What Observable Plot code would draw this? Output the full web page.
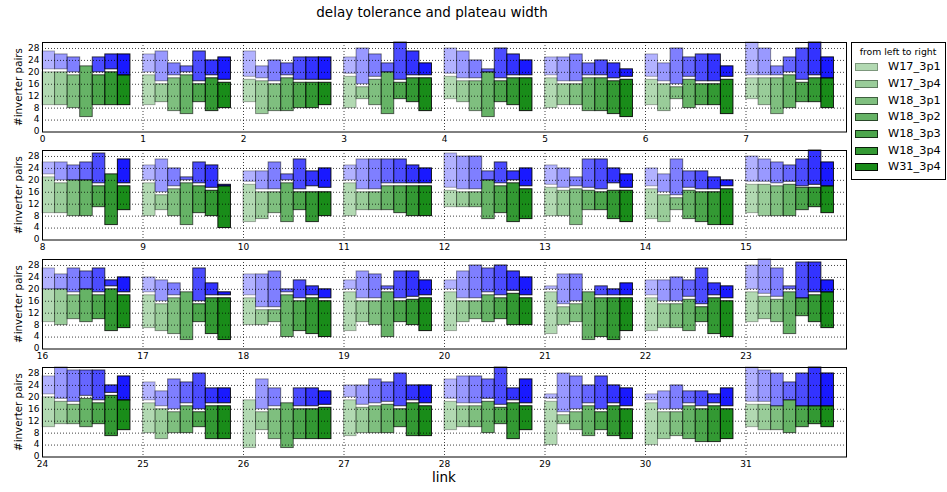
<!DOCTYPE html>
<html><head><meta charset="utf-8">
<script src="https://cdn.jsdelivr.net/npm/d3@7"></script>
<script src="https://cdn.jsdelivr.net/npm/@observablehq/plot@0.6"></script>
<style>
body{margin:0;background:#fff;font-family:"DejaVu Sans",sans-serif;}
#root{position:relative;width:947px;height:492px;overflow:hidden;background:#fff;}
.abs{position:absolute;white-space:nowrap;color:#000;}
svg{overflow:visible;}
</style></head><body><div id="root"></div>
<script>
const series = ["W17_3p1","W17_3p4","W18_3p1","W18_3p2","W18_3p3","W18_3p4","W31_3p4"];
const links = d3.range(32);
const yTicks = [0,4,8,12,16,20,24,28];
// per link (row), per series (column)
const greenLow = [
[9,9,8,5,9,9,9],[9,10,7,6,10,7,8],[10,6,7,7,8,8,9],[8,11,9,6,11,10,7],
[11,10,7,5,10,9,7],[8,9,9,7,7,6,5],[9,7,11,8,9,9,6],[11,9,6,8,10,10,8],
[9,9,8,8,11,5,10],[8,10,8,5,9,8,4],[6,7,9,6,10,6,8],[8,10,10,10,9,8,8],
[11,11,11,7,9,6,7],[8,8,5,10,10,7,6],[7,6,10,7,6,5,5],[9,8,8,8,10,11,9],
[9,8,10,9,10,6,7],[7,6,5,3,9,5,3],[8,8,9,4,6,5,4],[6,9,8,4,9,8,6],
[6,9,10,9,10,8,8],[5,8,9,3,4,3,6],[6,7,7,6,9,5,4],[9,10,9,5,11,9,7],
[10,11,11,10,11,7,9],[8,6,8,8,10,6,6],[3,9,6,3,6,6,6],[7,8,8,8,10,7,7],
[9,10,10,8,11,6,9],[4,11,9,7,9,7,6],[4,6,7,6,5,5,6],[10,9,9,8,10,11,10]];
const greenTop = [
[20,20,19,22,19,20,19],[19,16,18,19,16,18,16.5],[17.5,17,16,18,16.5,16.5,16.5],[18.5,15,17.5,20,16.5,18,18],
[18.5,17,17,20,17,18,18],[18,16,16,18,18,17,17.5],[17.5,16,15,17.5,16,16,17.5],[18,18,18,19,16.5,18,18],
[21,19,20,20,18,22,18],[19,15,17,19,18,16.5,18],[18.5,16,16,19,16,16,16],[19,16,16,18,18,18,18],
[16.5,16,16,20,18,19,17],[17.5,16.5,17,16.5,16,16.5,16.5],[17,15,14,16.5,16,16,17],[18.5,18.5,18,18.5,17.5,17.5,18],
[20,20,18,20,18,20,18],[18,15,17,19,15,17,17],[17,13,13,18,16,17,16],[19,16,16,19,16,16.5,17],
[19,16,16,18,17,18.5,17],[19,14,15,19,17,17,17],[17,15,15,16.5,14,17,16],[19,17.5,16.5,19,17,18,19],
[20,18.5,17.5,19.5,18,20.5,19],[18,16,15,17,15,17,17],[19,15,16,18,16,16,16.5],[19,16.5,17,17.5,16,18,17],
[18.5,17,17,18.5,16.5,18,17],[18.5,14,15,17,15,17,16],[18,15,15,17,16,17,16],[17.5,17.5,17,19,17,17,17]];
const blueBottom = [
[21,21,20,22,20,21,19],[20,17,19,20,17,19,17.5],[18.5,18,17,19,17.5,17.5,17.5],[19.5,16,18.5,20,17.5,19,19],
[19.5,18,18,20,18,19,19],[19,17,17,19,19,18,18.5],[18.5,17,16,18.5,17,17,18.5],[19,19,19,20,17.5,19,18],
[22,20,20,20,19,22,19],[20,16,18,20,19,17.5,18],[19.5,17,17,20,17,18,17.5],[20,17,17,19,19,19,19],
[17.5,17,17,20,19,20,18],[18.5,17.5,18,17.5,17,19,17.5],[18,16,15,17.5,17,17,18],[19.5,19.5,19,19.5,18,18.5,18],
[20,20,19,20,19,21,19],[19,16,18,19,16,18,18],[18,14,14,19,17,18,17],[20,17,17,20,17,17.5,18],
[20,17,17,19,18,19.5,18],[20,15,16,19,18,18,18],[18,16,16,17.5,15,18,17],[20,18.5,17.5,20,17,19,19],
[21,19.5,18.5,20.5,19,21.5,19],[19,17,16,18,16,18,18],[19,16,17,18,17,17,17.5],[20,17.5,18,18.5,17,19,18],
[19.5,18,18,19.5,17.5,19,18],[19.5,15,16,18,16,18,17],[19,16,16,18,17,18,17],[18.5,18.5,17,19,17,17,17]];
const blueTop = [
[27,26,25,22,25,26,26],[26,27,23,22,27,24,25],[27,22,24,23,25,25,25],[25,28,26,23,30,27,23],
[28,27,24,21,28,26,24],[25,25,26,23,24,23,21],[26,23,28,25,26,26,22],[30,28,22,25,28,30,25],
[26,26,25,26,29,22,27],[25,27,24,21,26,25,18.5],[23,23,26,22,27,23,24],[25,27,27,27,27,25,24],
[29,28,28,23,26,23,24],[25,24,21,27,27,24,22],[24,22,27,23,23,21,20],[28,27,26,25,27,30,26],
[27,25,27,26,27,23,24],[24,23,22,19,27,22,19],[25,25,26,20,23,21,20],[23,26,25,21,26,26,23],
[23,26,28,27,28,26,24],[21,25,25,19,21,20,22],[23,23,24,23,27,22,21],[28,30,27,21,29,29,23],
[27,30,29,29,29,24,27],[25,22,26,25,28,23,23],[19,26,23,18,23,23,22],[24,24,26,25,28,24,24],
[26,27,27,26,30,23,26],[21,28,27,24,27,24,23],[21,22,24,22,22,21,23],[30,29,28,25,28,30,28]];

const alpha = [0.3,0.4,0.5,0.6,0.7,0.8,0.9];
const GREEN = "rgb(0,128,0)", BLUE = "rgb(0,0,255)";
const barW = 0.125;

const rows = [];
links.forEach(l => series.forEach((name, s) => rows.push({
  link: l, s, name, x1: l + s*barW, x2: l + (s+1)*barW,
  lo: greenLow[l][s], g: greenTop[l][s], b: blueBottom[l][s], t: blueTop[l][s]
})));

const root = document.getElementById("root");
function addText(txt, css){ const d=document.createElement("div"); d.className="abs"; d.textContent=txt; Object.assign(d.style, css); root.appendChild(d); return d; }

const panelTops = [42,150,259,367];
const PH = 89.5;
panelTops.forEach((pt, r) => {
  const x0 = 8*r;
  const data = rows.filter(d => d.link >= x0 && d.link < x0+8);
  const svg = Plot.plot({
    width: 850, height: PH + 18, marginLeft: 42, marginRight: 4, marginTop: 2, marginBottom: 16,
    x: {domain: [x0, x0+8]}, y: {domain: [0, 30]},
    style: {fontFamily: "DejaVu Sans", fontSize: "9px", background: "transparent", color: "black"},
    marks: [
      Plot.rect(data, {x1: "x1", x2: "x2", y1: "lo", y2: "g", fill: GREEN,
        fillOpacity: d => alpha[d.s], stroke: "black", strokeOpacity: d => alpha[d.s], strokeWidth: 1}),
      Plot.rect(data.filter(d => d.t > d.b), {x1: "x1", x2: "x2", y1: "b", y2: "t", fill: BLUE,
        fillOpacity: d => alpha[d.s], stroke: "black", strokeOpacity: d => alpha[d.s], strokeWidth: 1}),
      Plot.gridY(yTicks.filter(v => v > 0), {stroke: "black", strokeOpacity: 0.75, strokeWidth: 1, strokeDasharray: "1,2"}),
      Plot.gridX(d3.range(x0+1, x0+8), {stroke: "black", strokeOpacity: 0.75, strokeWidth: 1, strokeDasharray: "1,2"}),
      Plot.frame({stroke: "black", strokeWidth: 1}),
      Plot.axisX(d3.range(x0, x0+8), {tickSize: 0, tickPadding: 4, tickFormat: d => String(d), label: null, fontSize: 9}),
      Plot.axisY(yTicks, {tickSize: 0, tickPadding: 3, label: null, fontSize: 9, dy: -0.5})
    ]
  });
  svg.style.position = "absolute"; svg.style.left = "0px"; svg.style.top = (pt - 2) + "px";
  root.appendChild(svg);
  addText("#inverter pairs", {fontSize: "10.3px", left: "18px", top: (pt + PH/2) + "px",
    transform: "translate(-50%,-50%) rotate(-90deg)", lineHeight: "1"});
});

addText("delay tolerance and plateau width", {fontSize: "13.5px", left: "432px", top: "12.5px", transform: "translate(-50%,-50%)", lineHeight: "1"});
addText("link", {fontSize: "13.5px", left: "444px", top: "478px", transform: "translate(-50%,-50%)", lineHeight: "1"});

// legend
const lg = document.createElement("div");
lg.className = "abs";
Object.assign(lg.style, {left: "851px", top: "42px", width: "95px", height: "138px", border: "1px solid #000", boxSizing: "border-box", background: "#fff"});
root.appendChild(lg);
addText("from left to right", {fontSize: "9.3px", left: "898px", top: "52px", transform: "translate(-50%,-50%)", lineHeight: "1"});
series.forEach((name, s) => {
  const cy = 67.3 + s*16.67;
  const sw = document.createElement("div");
  sw.className = "abs";
  Object.assign(sw.style, {left: "855px", top: (cy - 4) + "px", width: "23px", height: "8px", boxSizing: "border-box",
    background: `rgba(0,128,0,${alpha[s]})`, border: `1px solid rgba(0,0,0,${alpha[s]})`});
  root.appendChild(sw);
  addText(name, {fontSize: "11.3px", left: "888px", top: cy + "px", transform: "translateY(-50%)", lineHeight: "1"});
});
</script></body></html>
